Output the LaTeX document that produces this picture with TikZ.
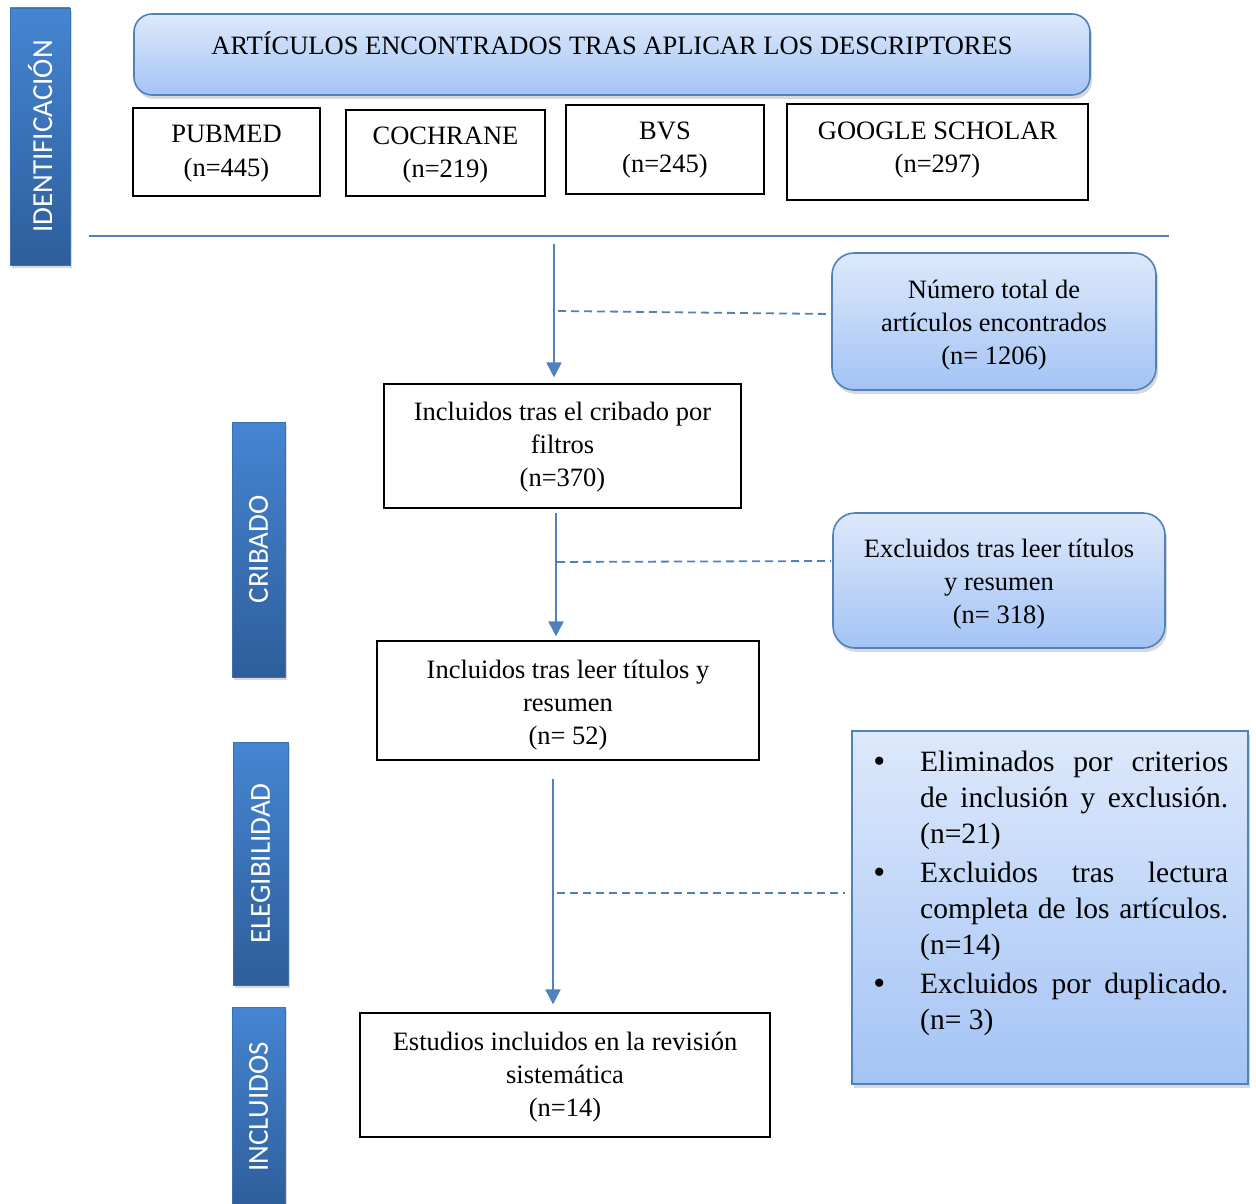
\documentclass[tikz,border=0pt]{standalone}
\usepackage{fontspec}
\setmainfont{Liberation Serif}
\newfontfamily\sidefont{Carlito}
\usetikzlibrary{arrows.meta,shadows}
\definecolor{lineblue}{HTML}{4F81BD}
\definecolor{boxtop}{HTML}{DDE9FB}
\definecolor{boxbot}{HTML}{A4C3F5}
\definecolor{sideL}{HTML}{4585D2}
\definecolor{sideR}{HTML}{2E5E9B}
\newcommand\fs{\fontsize{26.5}{33}\selectfont}
\newcommand\bigbul{\makebox[40pt]{\raisebox{-1pt}{\fontsize{34}{36}\selectfont •}}}
\begin{document}
\begin{tikzpicture}[x=1pt,y=-1pt,
  plain/.style={draw=black,line width=1.1pt,fill=white,inner sep=0pt},
  soft/.style={draw=lineblue,line width=1.6pt,top color=boxtop,bottom color=boxbot,
    rounded corners=20pt,inner sep=0pt,
    drop shadow={shadow xshift=2pt,shadow yshift=-4pt,opacity=0.3}},
  txt/.style={font=\fs,align=center,inner sep=0pt,anchor=base},
  side/.style={rotate=90,top color=sideL,bottom color=sideR,draw=sideL!85!black,line width=0.6pt,
    text=white,font=\sidefont\fontsize{29}{30}\selectfont,inner sep=0pt,
    drop shadow={shadow xshift=2pt,shadow yshift=-3pt,opacity=0.3}},
  conn/.style={draw=lineblue,line width=1.8pt},
  arr/.style={conn,-{Triangle[width=15pt,length=15pt]}},
  dsh/.style={conn,dash pattern=on 8pt off 5pt}
]
\useasboundingbox (0,0) rectangle (1256,1204);

% side bars
\node[side,minimum width=257pt,minimum height=60pt] (sid) at (40,136.5) {IDENTIFICACIÓN};
\node[side,minimum width=255pt,minimum height=53pt] (scr) at (258.5,549.5) {CRIBADO};
\node[side,minimum width=243pt,minimum height=55pt] (sel) at (260.5,863.5) {ELEGIBILIDAD};
\node[side,minimum width=200pt,minimum height=53pt] (sin) at (258.5,1107) {INCLUIDOS};

% top box
\node[soft,rounded corners=18pt,minimum width=956pt,minimum height=81pt] (top) at (612,54.5) {};
\node[txt] (topT) at (612,55) {ARTÍCULOS ENCONTRADOS TRAS APLICAR LOS DESCRIPTORES};

% databases
\node[plain,minimum width=187pt,minimum height=88pt] (pub) at (226.5,152) {};
\node[txt] (pubT) at (226.5,176) {PUBMED\\(n=445)};
\node[plain,minimum width=199pt,minimum height=86pt] (coc) at (445.5,153) {};
\node[txt] (cocT) at (445.5,178) {COCHRANE\\(n=219)};
\node[plain,minimum width=198pt,minimum height=89pt] (bvs) at (665,149.5) {};
\node[txt] (bvsT) at (665,173) {BVS\\(n=245)};
\node[plain,minimum width=301pt,minimum height=96pt] (goo) at (937.5,152) {};
\node[txt] (gooT) at (937.5,172) {GOOGLE SCHOLAR\\(n=297)};

% separator
\coordinate (sepL) at (89,236);
\coordinate (sepR) at (1169,236);
\draw[conn] (sepL) -- (sepR);

% flow boxes
\node[soft,rounded corners=22pt,minimum width=324pt,minimum height=137pt] (num) at (994,321.5) {};
\node[txt] (numT) at (994,364) {Número total de\\artículos encontrados\\(n= 1206)};
\node[plain,minimum width=357pt,minimum height=124pt] (c1) at (562.5,446) {};
\node[txt] (c1T) at (562.5,486) {Incluidos tras el cribado por\\filtros\\(n=370)};
\node[soft,rounded corners=22pt,minimum width=332pt,minimum height=135pt] (ex) at (999,580.5) {};
\node[txt] (exT) at (999,623) {Excluidos tras leer títulos\\y resumen\\(n= 318)};
\node[plain,minimum width=382pt,minimum height=119pt] (c2) at (568,700.5) {};
\node[txt] (c2T) at (568,744) {Incluidos tras leer títulos y\\resumen\\(n= 52)};
\node[soft,rounded corners=0pt,minimum width=396pt,minimum height=353pt] (elim) at (1050,907.5) {};
\node[plain,minimum width=410pt,minimum height=124pt] (est) at (565,1075) {};
\node[txt] (estT) at (565,1116) {Estudios incluidos en la revisión\\sistemática\\(n=14)};

\node[anchor=base west,inner sep=0pt] (elimT) at (859,771) {\fontsize{29.5}{36}\selectfont
\begin{tabular}[t]{@{}p{61pt}@{}l@{}}
\bigbul & \makebox[308pt][s]{Eliminados por criterios}\\
 & \makebox[308pt][s]{de inclusión y exclusión.}\\
 & (n=21)\\[3pt]
\bigbul & \makebox[308pt][s]{Excluidos tras lectura}\\
 & \makebox[308pt][s]{completa de los artículos.}\\
 & (n=14)\\[3pt]
\bigbul & \makebox[308pt][s]{Excluidos por duplicado.}\\
 & (n= 3)
\end{tabular}};

% arrows
\coordinate (a1) at (554,244);
\draw[arr,shorten >=6pt] (a1) -- (a1 |- c1.north);
\coordinate (x2) at (556,0);
\draw[arr,shorten <=4pt,shorten >=4pt] (x2 |- c1.south) -- (x2 |- c2.north);
\coordinate (x3) at (553,0);
\draw[arr,shorten <=18pt,shorten >=8pt] (x3 |- c2.south) -- (x3 |- est.north);

% dashed links
\coordinate (d1) at (558,311);
\coordinate (d1e) at (831,314);
\draw[dsh] (d1) -- (d1e);
\coordinate (d2) at (557,562);
\coordinate (d2e) at (831,561);
\draw[dsh] (d2) -- (d2e);
\coordinate (d3) at (557,893);
\coordinate (d3e) at (845,893);
\draw[dsh] (d3) -- (d3e);
\end{tikzpicture}
\end{document}
